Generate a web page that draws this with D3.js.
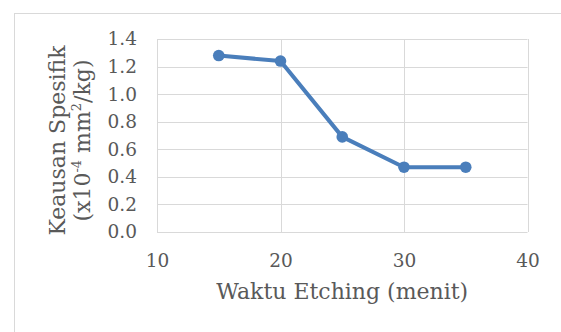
<!DOCTYPE html>
<html>
<head>
<meta charset="utf-8">
<script src="https://cdn.jsdelivr.net/npm/d3@7"></script>
<style>
  html, body { margin: 0; padding: 0; background: #fff; }
  svg { display: block; }
  text { font-family: "DejaVu Serif", "Liberation Serif", serif; fill: #595959; }
</style>
</head>
<body>
<svg id="chart" width="561" height="332"></svg>
<script>
// Etching time (minutes) and specific wear (x10^-4 mm^2/kg)
const etchTime = [15, 20, 25, 30, 35];
const specificWear = [1.28, 1.24, 0.69, 0.47, 0.47];
const xTicks = [10, 20, 30, 40];
const yTicks = [0, 0.2, 0.4, 0.6, 0.8, 1.0, 1.2, 1.4];

const svg = d3.select("#chart");
const W = 561, H = 332;
const plot = { left: 157, right: 527.5, top: 39, bottom: 232 };

// chart frame
svg.append("rect")
  .attr("x", 14.5).attr("y", 13.5)
  .attr("width", W + 10).attr("height", H + 10)
  .attr("fill", "#fff").attr("stroke", "#d9d9d9").attr("stroke-width", 1);

const x = d3.scaleLinear().domain([10, 40]).range([plot.left, plot.right]);
const y = d3.scaleLinear().domain([0, 1.4]).range([plot.bottom, plot.top]);

// gridlines
const grid = svg.append("g").attr("stroke", "#d9d9d9").attr("stroke-width", 1);
grid.selectAll("line.h").data(yTicks).join("line")
  .attr("x1", plot.left).attr("x2", plot.right)
  .attr("y1", d => Math.round(y(d)) + 0.5).attr("y2", d => Math.round(y(d)) + 0.5);
grid.selectAll("line.v").data(xTicks).join("line")
  .attr("y1", plot.top).attr("y2", plot.bottom)
  .attr("x1", d => Math.round(x(d)) + 0.5).attr("x2", d => Math.round(x(d)) + 0.5);

// axes (labels only)
const yAxis = svg.append("g")
  .attr("transform", `translate(${plot.left},0)`)
  .call(d3.axisLeft(y).tickValues(yTicks).tickFormat(d3.format(".1f")).tickSize(0).tickPadding(20));
const xAxis = svg.append("g")
  .attr("transform", `translate(0,${plot.bottom})`)
  .call(d3.axisBottom(x).tickValues(xTicks).tickFormat(d3.format("d")).tickSize(0).tickPadding(22));
[yAxis, xAxis].forEach(g => {
  g.select(".domain").remove();
  g.selectAll("text").attr("font-family", "DejaVu Serif").attr("font-size", 18.5).attr("fill", "#555");
});

// series line and markers
const pts = etchTime.map((t, i) => [t, specificWear[i]]);
svg.append("path")
  .datum(pts)
  .attr("fill", "none")
  .attr("stroke", "#4a7ebb")
  .attr("stroke-width", 4)
  .attr("stroke-linejoin", "round")
  .attr("d", d3.line().x(d => x(d[0])).y(d => y(d[1])));
svg.selectAll("circle.pt").data(pts).join("circle")
  .attr("cx", d => x(d[0])).attr("cy", d => y(d[1]))
  .attr("r", 5.8).attr("fill", "#4a7ebb");

// axis titles
svg.append("text")
  .attr("x", (plot.left + plot.right) / 2).attr("y", 299)
  .attr("text-anchor", "middle").attr("font-size", 22).attr("fill", "#555")
  .text("Waktu Etching (menit)");

const yt = svg.append("text")
  .attr("transform", "translate(0,140.5) rotate(-90)")
  .attr("text-anchor", "middle").attr("font-size", 22).attr("fill", "#555");
yt.append("tspan").attr("x", 0).attr("y", 65).text("Keausan Spesifik");
const l2 = yt.append("tspan").attr("x", 0).attr("y", 90);
l2.append("tspan").text("(x10");
l2.append("tspan").attr("font-size", 13).attr("dy", -9).text("-4");
l2.append("tspan").attr("dy", 9).text(" mm");
l2.append("tspan").attr("font-size", 13).attr("dy", -9).text("2");
l2.append("tspan").attr("dy", 9).text("/kg)");
</script>
</body>
</html>
